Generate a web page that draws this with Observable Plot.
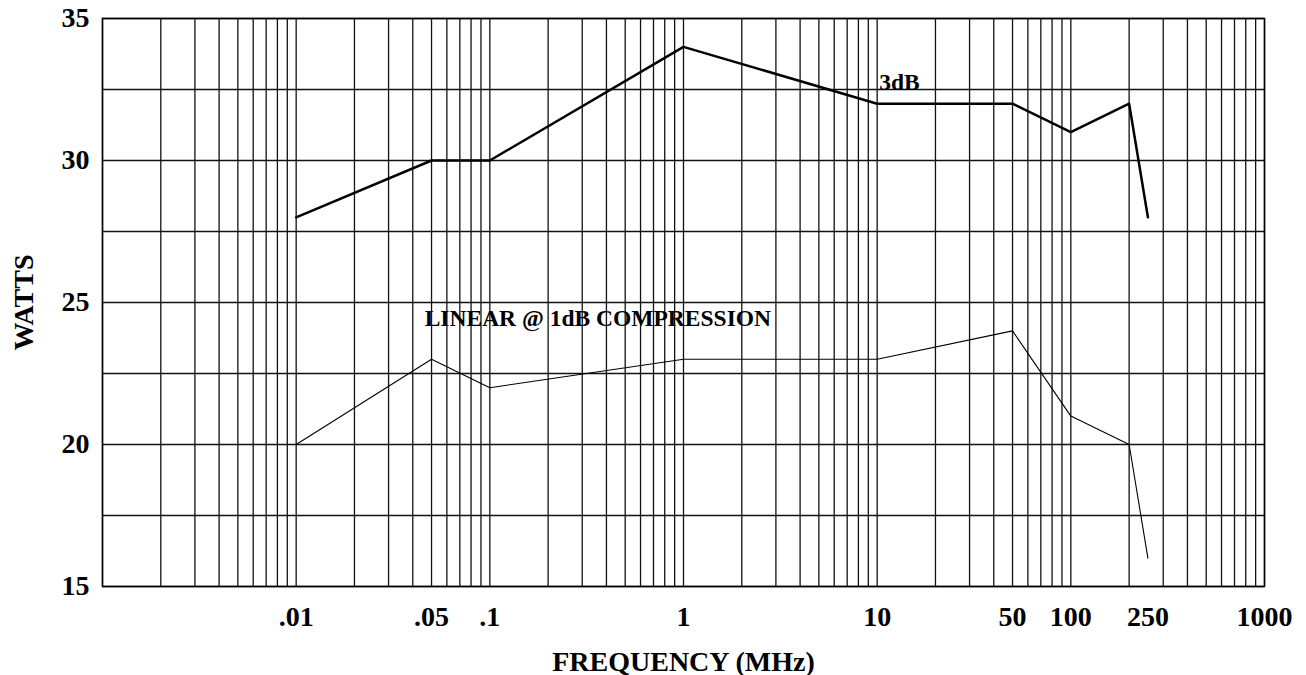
<!DOCTYPE html>
<html><head><meta charset="utf-8">
<script src="https://cdn.jsdelivr.net/npm/d3@7"></script>
<script src="https://cdn.jsdelivr.net/npm/@observablehq/plot@0.6"></script>
<style>body{margin:0;background:#fff}</style>
</head><body><div id="chart"></div>
<script>
// Frequencies (MHz) of the measured points
const freq = [0.01, 0.05, 0.1, 1, 10, 50, 100, 200, 250];
// Output power, 3 dB compression (W)
const watts3dB = [28, 30, 30, 34, 32, 32, 31, 32, 28];
// Output power, linear @ 1 dB compression (W)
const watts1dB = [20, 23, 22, 23, 23, 24, 21, 20, 16];

const xTickValues = [0.01, 0.05, 0.1, 1, 10, 50, 100, 250, 1000];
const xTickLabels = [".01", ".05", ".1", "1", "10", "50", "100", "250", "1000"];
const yTickValues = [15, 20, 25, 30, 35];
const yGridValues = [15, 17.5, 20, 22.5, 25, 27.5, 30, 32.5, 35];

const annotationText = ["3dB", "LINEAR @ 1dB COMPRESSION"];
const annotationX = [10, 0.045];
const annotationY = [32.75, 24.45];

const data3 = freq.map((f, i) => ({f, w: watts3dB[i]}));
const data1 = freq.map((f, i) => ({f, w: watts1dB[i]}));
const annotations = annotationText.map((t, i) => ({t, x: annotationX[i], y: annotationY[i]}));
const xTicks = xTickValues.map((v, i) => ({v, label: xTickLabels[i]}));
const xDomain = [0.001, 1000];
const gridX = d3.scaleLog().domain(xDomain).ticks();

const chart = Plot.plot({
  width: 1306,
  height: 675,
  marginTop: 18,
  marginBottom: 89,
  marginLeft: 102,
  marginRight: 42,
  style: {fontFamily: "'Liberation Serif', 'Times New Roman', serif", fontWeight: "bold", fontSize: "28px", color: "#000", background: "#fff"},
  x: {type: "log", domain: xDomain, axis: null},
  y: {domain: [15, 35]},
  marks: [
    Plot.ruleX(gridX, {stroke: "#111", strokeWidth: 1.3}),
    Plot.ruleY(yGridValues, {stroke: "#111", strokeWidth: 1.3}),
    Plot.frame({stroke: "#000", strokeWidth: 1.5}),
    Plot.line(data1, {x: "f", y: "w", stroke: "#000", strokeWidth: 1.1}),
    Plot.line(data3, {x: "f", y: "w", stroke: "#000", strokeWidth: 2.5}),
    Plot.text(xTicks, {x: "v", text: "label", frameAnchor: "bottom", lineAnchor: "top", dy: 20, fontSize: 28}),
    Plot.text(["FREQUENCY (MHz)"], {frameAnchor: "bottom", lineAnchor: "bottom", dy: 84, fontSize: 28}),
    Plot.axisY({ticks: yTickValues, tickSize: 0, tickPadding: 13,
      label: "WATTS", labelAnchor: "center", labelOffset: 89, labelArrow: "none"}),
    Plot.text(annotations, {x: "x", y: "y", text: "t", textAnchor: "start", dx: 2, fontSize: 23.5})
  ]
});
document.getElementById("chart").appendChild(chart);
</script>
</body></html>
